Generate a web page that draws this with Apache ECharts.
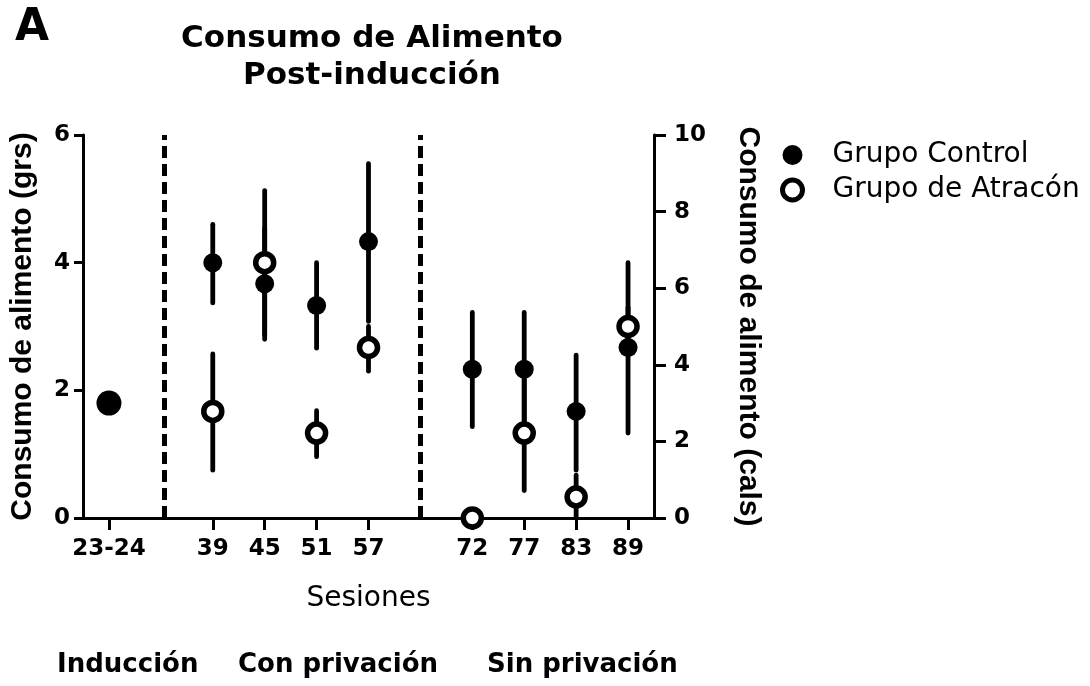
<!DOCTYPE html>
<html>
<head>
<meta charset="utf-8">
<script src="https://cdn.jsdelivr.net/npm/echarts@6/dist/echarts.min.js"></script>
<style>html,body{margin:0;padding:0;background:#fff;}#c{width:1090px;height:686px;}</style>
</head>
<body>
<div id="c"></div>
<script>
// ---- data ----
const sessions = ['23-24', '39', '45', '51', '57', '72', '77', '83', '89'];
const sessionPos = [0, 2, 3, 4, 5, 7, 8, 9, 10];
const controlMean = [1.8, 4.0, 3.67, 3.33, 4.33, 2.33, 2.33, 1.67, 2.67];
const controlLow  = [null, 3.37, 2.80, 2.66, 3.08, 1.43, 1.45, 0.75, 1.33];
const controlHigh = [null, 4.60, 4.54, 4.00, 5.55, 3.22, 3.22, 2.55, 4.00];
const bingeMean = [null, 1.67, 4.0, 1.33, 2.67, 0.0, 1.33, 0.33, 3.0];
const bingeLow  = [null, 0.75, 2.87, 0.96, 2.30, 0.0, 0.43, 0.0, 2.70];
const bingeHigh = [null, 2.57, 5.13, 1.68, 3.00, 0.0, 2.23, 0.67, 3.30];
const separators = [1.07, 6];
const phaseLabels = ['Inducción', 'Con privación', 'Sin privación'];
const seriesNames = ['Grupo Control', 'Grupo de Atracón'];
const leftAxisName = 'Consumo de alimento (grs)';
const rightAxisName = 'Consumo de alimento (cals)';
const xAxisName = 'Sesiones';
const titleLines = ['Consumo de Alimento', 'Post-inducción'];

// ---- build ----
const BOLD = 'DejaVu Sans';
const controlPts = sessionPos.map((x, i) => {
  const item = { value: [x, controlMean[i]] };
  if (i === 0) item.symbolSize = 25;
  return item;
});
const bingePts = sessionPos.map((x, i) => bingeMean[i] == null ? null : [x, bingeMean[i]]).filter(d => d);
const errData = [];
sessionPos.forEach((x, i) => {
  if (controlLow[i] != null) errData.push([x, controlLow[i], controlHigh[i]]);
  if (bingeLow[i] != null && bingeHigh[i] > bingeLow[i]) errData.push([x, bingeLow[i], bingeHigh[i]]);
});
const labelMap = {};
sessionPos.forEach((p, i) => labelMap[p] = sessions[i]);

const chart = echarts.init(document.getElementById('c'), null, { renderer: 'canvas' });
chart.setOption({
  animation: false,
  backgroundColor: '#fff',
  grid: { left: 80, right: 436, top: 135, bottom: 168, containLabel: false },
  title: {
    text: titleLines.join('\n'),
    left: 367, top: 15, textAlign: 'center',
    textStyle: { fontFamily: BOLD, fontWeight: 'bold', fontSize: 31, lineHeight: 37, color: '#000' }
  },
  graphic: [
    { type: 'text', left: 15, top: 7, style: { text: 'A', font: 'bold 44px "DejaVu Sans"', fill: '#000' } },
    { type: 'text', left: 57, top: 652, style: { text: phaseLabels[0], font: 'bold 26px "DejaVu Sans"', fill: '#000' } },
    { type: 'text', left: 238, top: 652, style: { text: phaseLabels[1], font: 'bold 26px "DejaVu Sans"', fill: '#000' } },
    { type: 'text', left: 487, top: 652, style: { text: phaseLabels[2], font: 'bold 26px "DejaVu Sans"', fill: '#000' } }
  ],
  legend: {
    orient: 'vertical', left: 775, top: 136, itemWidth: 20, itemHeight: 20, itemGap: 7,
    textStyle: { fontFamily: 'DejaVu Sans', fontSize: 28, color: '#000', padding: [0, 0, 0, 25], lineHeight: 28 },
    data: [
      { name: seriesNames[0], icon: 'circle', itemStyle: { color: '#000', borderWidth: 0 } },
      { name: seriesNames[1], icon: 'circle', itemStyle: { color: '#fff', borderColor: '#000', borderWidth: 5 } }
    ]
  },
  xAxis: {
    type: 'value', min: -0.5, max: 10.5,
    name: xAxisName, nameLocation: 'middle', nameGap: 67,
    nameTextStyle: { fontFamily: 'DejaVu Sans', fontSize: 28, color: '#000' },
    axisLine: { show: true, lineStyle: { color: '#000', width: 3 } },
    axisTick: { show: true, inside: false, length: 12, lineStyle: { color: '#000', width: 3 }, customValues: sessionPos },
    axisLabel: {
      customValues: sessionPos, margin: 20,
      formatter: v => labelMap[v] !== undefined ? labelMap[v] : '',
      fontFamily: BOLD, fontWeight: 'bold', fontSize: 23, color: '#000'
    },
    splitLine: { show: false }
  },
  yAxis: [
    {
      type: 'value', min: 0, max: 6, interval: 2, position: 'left',
      name: leftAxisName, nameLocation: 'middle', nameGap: 45,
      nameTextStyle: { fontFamily: 'Liberation Sans', fontWeight: 'bold', fontSize: 30, color: '#000' },
      axisLine: { show: true, onZero: false, lineStyle: { color: '#000', width: 3 } },
      axisTick: { show: true, length: 9, lineStyle: { color: '#000', width: 3 } },
      axisLabel: { margin: 13, fontFamily: BOLD, fontWeight: 'bold', fontSize: 23, color: '#000' },
      splitLine: { show: false }
    },
    {
      type: 'value', min: 0, max: 10, interval: 2, position: 'right',
      name: rightAxisName, nameLocation: 'middle', nameGap: 79, nameRotate: -90,
      nameTextStyle: { fontFamily: 'Liberation Sans', fontWeight: 'bold', fontSize: 30, color: '#000' },
      axisLine: { show: true, onZero: false, lineStyle: { color: '#000', width: 3 } },
      axisTick: { show: true, length: 12, lineStyle: { color: '#000', width: 3 } },
      axisLabel: { margin: 20, fontFamily: BOLD, fontWeight: 'bold', fontSize: 23, color: '#000' },
      splitLine: { show: false }
    }
  ],
  series: [
    {
      type: 'custom', name: 'err', z: 2, silent: true,
      renderItem: (params, api) => {
        const p1 = api.coord([api.value(0), api.value(1)]);
        const p2 = api.coord([api.value(0), api.value(2)]);
        return { type: 'line', shape: { x1: p1[0], y1: p1[1], x2: p2[0], y2: p2[1] },
                 style: { stroke: '#000', lineWidth: 4.8, lineCap: 'round' } };
      },
      encode: { x: 0, y: [1, 2] },
      data: errData,
      markLine: {
        silent: true, symbol: 'none', label: { show: false },
        lineStyle: { color: '#000', width: 5, type: [12, 6] },
        emphasis: { disabled: true },
        data: separators.map(s => ({ xAxis: s }))
      }
    },
    {
      type: 'scatter', name: seriesNames[0], z: 3, symbol: 'circle', symbolSize: 19,
      itemStyle: { color: '#000', opacity: 1 },
      data: controlPts
    },
    {
      type: 'scatter', name: seriesNames[1], z: 4, symbol: 'circle', symbolSize: 18,
      itemStyle: { color: '#fff', borderColor: '#000', borderWidth: 5.5, opacity: 1 },
      data: bingePts, clip: false
    }
  ]
});
</script>
</body>
</html>
